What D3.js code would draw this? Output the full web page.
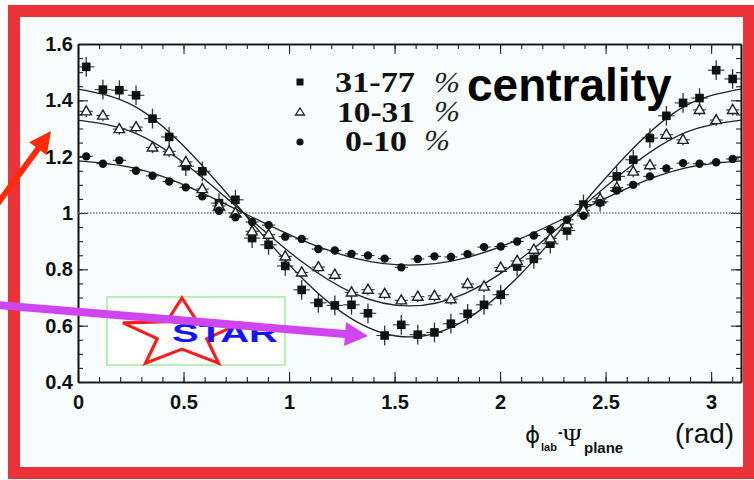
<!DOCTYPE html>
<html><head><meta charset="utf-8">
<script src="https://cdn.jsdelivr.net/npm/d3@7"></script>
<style>body{margin:0;background:#fff}svg{display:block}</style>
</head><body>
<svg id="c" width="754" height="480"></svg>
<script>
// ---------- data ----------
const categories = ["31-77 %", "10-31 %", "0-10 %"];
const xTickLabels = ["0", "0.5", "1", "1.5", "2", "2.5", "3"];
const xTickValues = [0, 0.5, 1, 1.5, 2, 2.5, 3];
const yTickLabels = ["0.4", "0.6", "0.8", "1", "1.2", "1.4", "1.6"];
const yTickValues = [0.4, 0.6, 0.8, 1.0, 1.2, 1.4, 1.6];
// bin centres (rad), 40 bins over [0, pi]
const phiBins = [0.039,0.118,0.196,0.275,0.353,0.432,0.511,0.589,0.668,0.746,
                 0.825,0.903,0.982,1.060,1.139,1.217,1.296,1.374,1.453,1.532,
                 1.610,1.689,1.767,1.846,1.924,2.003,2.081,2.160,2.238,2.317,
                 2.395,2.474,2.553,2.631,2.710,2.788,2.867,2.945,3.024,3.102];
const binHalfWidth = 0.039;
// 31-77 % (filled squares)
const v31_77 = [1.519,1.438,1.436,1.418,1.335,1.270,1.166,1.148,1.035,1.047,
                0.911,0.887,0.812,0.727,0.681,0.672,0.674,0.644,0.565,0.603,
                0.568,0.576,0.607,0.642,0.674,0.710,0.810,0.837,0.891,0.938,
                1.030,1.040,1.130,1.189,1.266,1.345,1.391,1.408,1.507,1.476];
// 10-31 % (open triangles)
const v10_31 = [1.361,1.346,1.298,1.305,1.233,1.219,1.181,1.085,1.025,1.000,
                0.935,0.923,0.846,0.789,0.808,0.781,0.718,0.728,0.713,0.690,
                0.703,0.706,0.694,0.748,0.739,0.806,0.830,0.870,0.910,0.960,
                1.010,1.050,1.090,1.147,1.170,1.278,1.260,1.366,1.330,1.366];
// 0-10 % (filled circles)
const v0_10  = [1.201,1.175,1.187,1.150,1.132,1.112,1.091,1.059,1.008,0.985,
                0.968,0.957,0.916,0.908,0.872,0.867,0.855,0.849,0.838,0.807,
                0.837,0.846,0.844,0.854,0.879,0.881,0.899,0.920,0.941,0.976,
                0.990,1.036,1.080,1.100,1.130,1.158,1.177,1.175,1.180,1.192];
const errors = [0.035, 0.02, 0.012];
// fit curves read at phi = k*pi/12
const fitPhi   = [0,0.262,0.524,0.785,1.047,1.309,1.571,1.833,2.094,2.356,2.618,2.880,3.1416];
const fit31_77 = [1.44,1.381,1.22,1.0,0.78,0.619,0.56,0.619,0.78,1.0,1.22,1.381,1.44];
const fit10_31 = [1.33,1.286,1.165,1.0,0.835,0.714,0.67,0.714,0.835,1.0,1.165,1.286,1.33];
const fit0_10  = [1.185,1.16,1.093,1.0,0.908,0.84,0.815,0.84,0.908,1.0,1.093,1.16,1.185];

// ---------- drawing ----------
const svg = d3.select("#c");
const FONT = "'Liberation Sans', Arial, Helvetica, sans-serif";
const SERIF = "'Liberation Serif', 'Times New Roman', serif";

svg.append("rect").attr("x",0).attr("y",0).attr("width",754).attr("height",480).attr("fill","#ffffff");
svg.append("rect").attr("x",14).attr("y",11).attr("width",735).attr("height",462).attr("fill","#f8fcfc");

const x = d3.scaleLinear().domain([0, Math.PI]).range([78, 741]);
const y = d3.scaleLinear().domain([0.4, 1.6]).range([382, 44]);

function styleAxis(g) {
  g.selectAll("path.domain").attr("stroke", "#111").attr("stroke-width", 1.6);
  g.selectAll(".tick line").attr("stroke", "#222").attr("stroke-width", 1.1);
  g.selectAll("text").attr("font-family", FONT).attr("font-weight", "bold")
    .attr("font-size", 20).attr("fill", "#111");
}
const minorX = d3.range(0, 32).map(i => i / 10);
const minorY = d3.range(0, 25).map(i => 0.4 + i * 0.05);

// bottom
svg.append("g").attr("transform", `translate(0,${y(0.4)})`)
  .call(d3.axisBottom(x).tickValues(minorX).tickFormat("").tickSize(-5).tickSizeOuter(0)).call(styleAxis);
svg.append("g").attr("transform", `translate(0,${y(0.4)})`)
  .call(d3.axisBottom(x).tickValues(xTickValues).tickFormat((d, i) => xTickLabels[i]).tickSize(-10).tickSizeOuter(0).tickPadding(13))
  .call(styleAxis);
// top
svg.append("g").attr("transform", `translate(0,${y(1.6)})`)
  .call(d3.axisTop(x).tickValues(minorX).tickFormat("").tickSize(-5).tickSizeOuter(0)).call(styleAxis);
svg.append("g").attr("transform", `translate(0,${y(1.6)})`)
  .call(d3.axisTop(x).tickValues(xTickValues).tickFormat("").tickSize(-10).tickSizeOuter(0)).call(styleAxis);
// left
svg.append("g").attr("transform", `translate(${x(0)},0)`)
  .call(d3.axisLeft(y).tickValues(minorY).tickFormat("").tickSize(-5).tickSizeOuter(0)).call(styleAxis);
svg.append("g").attr("transform", `translate(${x(0)},0)`)
  .call(d3.axisLeft(y).tickValues(yTickValues).tickFormat((d, i) => yTickLabels[i]).tickSize(-10).tickSizeOuter(0).tickPadding(5))
  .call(styleAxis);
// right
svg.append("g").attr("transform", `translate(${x(Math.PI)},0)`)
  .call(d3.axisRight(y).tickValues(minorY).tickFormat("").tickSize(-5).tickSizeOuter(0)).call(styleAxis);
svg.append("g").attr("transform", `translate(${x(Math.PI)},0)`)
  .call(d3.axisRight(y).tickValues(yTickValues).tickFormat("").tickSize(-10).tickSizeOuter(0)).call(styleAxis);

// dotted reference line at 1
svg.append("line").attr("x1", x(0)).attr("x2", x(Math.PI)).attr("y1", y(1)).attr("y2", y(1))
  .attr("stroke", "#777").attr("stroke-width", 1.3).attr("stroke-dasharray", "1.5,1.5");

// STAR logo (behind data)
const logo = svg.append("g");
logo.append("rect").attr("x", 107).attr("y", 297).attr("width", 178).attr("height", 68)
  .attr("fill", "#ffffff").attr("stroke", "#8fe88f").attr("stroke-width", 1.3);
function starPath(cx, cy, rx, ry, ratio) {
  const pts = [];
  for (let k = 0; k < 10; k++) {
    const a = -Math.PI / 2 + k * Math.PI / 5;
    const r = k % 2 === 0 ? 1 : ratio;
    pts.push([cx + rx * r * Math.cos(a), cy + ry * r * Math.sin(a)]);
  }
  return "M" + pts.map(p => p.join(",")).join("L") + "Z";
}
logo.append("path").attr("d", starPath(182, 334, 62, 36, 0.42))
  .attr("fill", "none").attr("stroke", "#ff1a1a").attr("stroke-width", 3.2).attr("stroke-linejoin", "miter");
logo.append("text").attr("x", 172).attr("y", 342).attr("font-family", FONT).attr("font-weight", "bold")
  .attr("font-size", 26).attr("fill", "#1414ff").attr("textLength", 106).attr("lengthAdjust", "spacingAndGlyphs")
  .text("STAR");

// fit curves
const line = d3.line().x((d, i) => x(fitPhi[i])).y(d => y(d)).curve(d3.curveNatural);
[fit31_77, fit10_31, fit0_10].forEach(f => {
  svg.append("path").attr("d", line(f)).attr("fill", "none").attr("stroke", "#222").attr("stroke-width", 1.3);
});

// data points
const seriesVals = [v31_77, v10_31, v0_10];
const shapes = ["square", "triangle", "circle"];
const dataG = svg.append("g");
function marker(g, shape, cx, cy) {
  if (shape === "square") {
    g.append("rect").attr("x", cx - 4.3).attr("y", cy - 4.3).attr("width", 8.6).attr("height", 8.6).attr("fill", "#111");
  } else if (shape === "circle") {
    g.append("circle").attr("cx", cx).attr("cy", cy).attr("r", 4.2).attr("fill", "#111");
  } else {
    const h = 5.5;
    g.append("path").attr("d", `M${cx},${cy - h}L${cx + h * 0.95},${cy + h * 0.65}L${cx - h * 0.95},${cy + h * 0.65}Z`)
      .attr("fill", "#fafdfd").attr("stroke", "#222").attr("stroke-width", 1.4);
  }
}
seriesVals.forEach((vals, si) => {
  vals.forEach((v, i) => {
    const px = x(phiBins[i]), py = y(v);
    const hw = binHalfWidth * (si === 0 ? 1 : 0.8);
    dataG.append("line").attr("x1", x(phiBins[i] - hw)).attr("x2", x(phiBins[i] + hw))
      .attr("y1", py).attr("y2", py).attr("stroke", "#333").attr("stroke-width", 1.1);
    dataG.append("line").attr("x1", px).attr("x2", px).attr("y1", y(v - errors[si])).attr("y2", y(v + errors[si]))
      .attr("stroke", "#333").attr("stroke-width", 1.3);
    marker(dataG, shapes[si], px, py);
  });
});

// legend
const legY = [82, 112, 142];
const legX = [335, 337, 345];
const legNumW = [80, 78, 62];
const pctX = [432, 432, 422];
const legBase = [92, 121.5, 150.5];
categories.forEach((c, i) => {
  const g = svg.append("g");
  if (shapes[i] === "square") g.append("rect").attr("x", 296.5).attr("y", legY[i] - 3.5).attr("width", 7).attr("height", 7).attr("fill", "#111");
  else if (shapes[i] === "triangle") g.append("path").attr("d", `M300,${legY[i] - 4}L304.5,${legY[i] + 3}L295.5,${legY[i] + 3}Z`).attr("fill", "none").attr("stroke", "#222").attr("stroke-width", 1.3);
  else g.append("circle").attr("cx", 300).attr("cy", legY[i]).attr("r", 3.6).attr("fill", "#111");
  const parts = c.split(" ");
  g.append("text").attr("x", legX[i]).attr("y", legBase[i]).attr("font-family", SERIF).attr("font-weight", "bold")
    .attr("font-size", 29).attr("fill", "#111").attr("textLength", legNumW[i]).attr("lengthAdjust", "spacingAndGlyphs").text(parts[0]);
  g.append("text").attr("x", pctX[i]).attr("y", legBase[i]).attr("font-family", SERIF)
    .attr("font-size", 29).attr("fill", "#222").attr("textLength", 26).attr("lengthAdjust", "spacingAndGlyphs")
    .attr("transform", `skewX(-12) translate(${legBase[i] * 0.2126},0)`).text(parts[1]);
});

// "centrality" annotation
svg.append("text").attr("x", 467).attr("y", 101).attr("font-family", FONT).attr("font-weight", "bold")
  .attr("font-size", 46).attr("fill", "#000").text("centrality");

// x-axis title (one text element with positioned spans)
const xt = svg.append("text").attr("font-family", FONT).attr("fill", "#111");
xt.append("tspan").attr("x", 525).attr("y", 443).attr("font-family", "'DejaVu Sans', sans-serif").attr("font-size", 23).text("\u03D5");
xt.append("tspan").attr("x", 541).attr("y", 451).attr("font-size", 11).attr("font-weight", "bold").text("lab");
xt.append("tspan").attr("x", 558).attr("y", 437).attr("font-size", 14).attr("font-weight", "bold").text("-");
xt.append("tspan").attr("x", 563).attr("y", 446).attr("font-family", SERIF).attr("font-size", 25).text("\u03A8");
xt.append("tspan").attr("x", 584).attr("y", 453).attr("font-size", 15).attr("font-weight", "bold").text("plane");
xt.append("tspan").attr("x", 675).attr("y", 443).attr("font-size", 28).text("(rad)");

// arrows (annotations)
function arrow(x1, y1, x2, y2, w, hl, hw, color) {
  const dx = x2 - x1, dy = y2 - y1, L = Math.hypot(dx, dy);
  const ux = dx / L, uy = dy / L, nx = -uy, ny = ux;
  const bx = x2 - ux * hl, by = y2 - uy * hl;
  const p = [
    [x1 + nx * w / 2, y1 + ny * w / 2], [bx + nx * w / 2, by + ny * w / 2], [bx + nx * hw / 2, by + ny * hw / 2],
    [x2, y2], [bx - nx * hw / 2, by - ny * hw / 2], [bx - nx * w / 2, by - ny * w / 2], [x1 - nx * w / 2, y1 - ny * w / 2]
  ];
  svg.append("path").attr("d", "M" + p.map(q => q.join(",")).join("L") + "Z").attr("fill", color);
}

// red frame
svg.append("rect").attr("x", 14).attr("y", 11).attr("width", 735).attr("height", 462)
  .attr("fill", "none").attr("stroke", "#ea3238").attr("stroke-width", 12);

arrow(-4, 206, 51, 131, 6, 22, 22, "#ff2a0a");
arrow(-2, 305, 368, 336, 8, 23, 24, "#cf45f0");
</script>
</body></html>
